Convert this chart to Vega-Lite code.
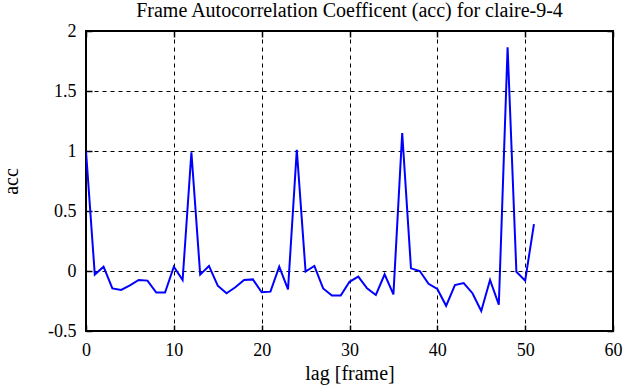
{
  "$schema": "https://vega.github.io/schema/vega-lite/v6.json",
  "autosize": "none",
  "width": 527,
  "height": 300,
  "padding": {"left": 86, "top": 31, "right": 12, "bottom": 56},
  "background": "white",
  "config": {
    "view": {"stroke": "black", "strokeWidth": 2},
    "font": "Liberation Serif",
    "style": {"guide-label": {"font": "Liberation Serif"}, "guide-title": {"font": "Liberation Serif"}},
    "axis": {
      "labelFont": "Liberation Serif",
      "titleFont": "Liberation Serif",
      "labelFontSize": 18,
      "titleFontSize": 20,
      "titleFontWeight": "normal",
      "labelColor": "black",
      "titleColor": "black",
      "tickColor": "black",
      "tickWidth": 1.5,
      "tickSize": -6,
      "domain": false,
      "gridColor": "black",
      "gridDash": [4, 4],
      "gridWidth": 1,
      "gridOpacity": 1
    }
  },
  "title": {
    "text": "Frame Autocorrelation Coefficent (acc) for claire-9-4",
    "font": "Liberation Serif",
    "fontSize": 20,
    "fontWeight": "normal",
    "color": "black",
    "anchor": "middle",
    "offset": 1
  },
  "data": {
    "values": [
      {"lag": 0, "acc": 1.0},
      {"lag": 1, "acc": -0.03},
      {"lag": 2, "acc": 0.036},
      {"lag": 3, "acc": -0.145},
      {"lag": 4, "acc": -0.158},
      {"lag": 5, "acc": -0.12},
      {"lag": 6, "acc": -0.075},
      {"lag": 7, "acc": -0.08},
      {"lag": 8, "acc": -0.18},
      {"lag": 9, "acc": -0.18},
      {"lag": 10, "acc": 0.036},
      {"lag": 11, "acc": -0.075},
      {"lag": 12, "acc": 0.99},
      {"lag": 13, "acc": -0.03},
      {"lag": 14, "acc": 0.042},
      {"lag": 15, "acc": -0.123},
      {"lag": 16, "acc": -0.186},
      {"lag": 17, "acc": -0.136},
      {"lag": 18, "acc": -0.075},
      {"lag": 19, "acc": -0.07},
      {"lag": 20, "acc": -0.177},
      {"lag": 21, "acc": -0.172},
      {"lag": 22, "acc": 0.036},
      {"lag": 23, "acc": -0.153},
      {"lag": 24, "acc": 1.01},
      {"lag": 25, "acc": -0.005},
      {"lag": 26, "acc": 0.042},
      {"lag": 27, "acc": -0.145},
      {"lag": 28, "acc": -0.205},
      {"lag": 29, "acc": -0.205},
      {"lag": 30, "acc": -0.09},
      {"lag": 31, "acc": -0.047},
      {"lag": 32, "acc": -0.145},
      {"lag": 33, "acc": -0.2},
      {"lag": 34, "acc": -0.028},
      {"lag": 35, "acc": -0.195},
      {"lag": 36, "acc": 1.15},
      {"lag": 37, "acc": 0.022},
      {"lag": 38, "acc": 0.0},
      {"lag": 39, "acc": -0.107},
      {"lag": 40, "acc": -0.15},
      {"lag": 41, "acc": -0.29},
      {"lag": 42, "acc": -0.117},
      {"lag": 43, "acc": -0.1},
      {"lag": 44, "acc": -0.185},
      {"lag": 45, "acc": -0.333},
      {"lag": 46, "acc": -0.075},
      {"lag": 47, "acc": -0.28},
      {"lag": 48, "acc": 1.864},
      {"lag": 49, "acc": -0.006},
      {"lag": 50, "acc": -0.08},
      {"lag": 51, "acc": 0.39}
    ]
  },
  "layer": [
    {
      "mark": {"type": "line", "color": "#0000ff", "strokeWidth": 2, "clip": true},
      "encoding": {
        "x": {
          "field": "lag", "type": "quantitative",
          "scale": {"domain": [0, 60], "nice": false, "zero": false},
          "axis": {"title": "lag [frame]", "values": [0, 10, 20, 30, 40, 50, 60], "labelPadding": 16, "titlePadding": 4, "labelExpr": "'' + datum.value", "labelFlush": false, "labelFont": "Liberation Serif", "titleFont": "Liberation Serif"}
        },
        "y": {
          "field": "acc", "type": "quantitative",
          "scale": {"domain": [-0.5, 2], "nice": false, "zero": false},
          "axis": {"title": "acc", "values": [-0.5, 0, 0.5, 1, 1.5, 2], "labelPadding": 16, "titlePadding": 26, "labelExpr": "'' + datum.value", "labelFlush": false, "labelFont": "Liberation Serif", "titleFont": "Liberation Serif"}
        }
      }
    },
    {
      "mark": {"type": "line", "opacity": 0},
      "encoding": {
        "x": {
          "field": "lag", "type": "quantitative",
          "axis": {"orient": "top", "title": null, "labels": false, "grid": false, "values": [0, 10, 20, 30, 40, 50, 60], "minExtent": 0, "maxExtent": 0}
        },
        "y": {
          "field": "acc", "type": "quantitative",
          "axis": {"orient": "right", "title": null, "labels": false, "grid": false, "values": [-0.5, 0, 0.5, 1, 1.5, 2], "minExtent": 0, "maxExtent": 0}
        }
      }
    }
  ],
  "resolve": {"axis": {"x": "independent", "y": "independent"}}
}
